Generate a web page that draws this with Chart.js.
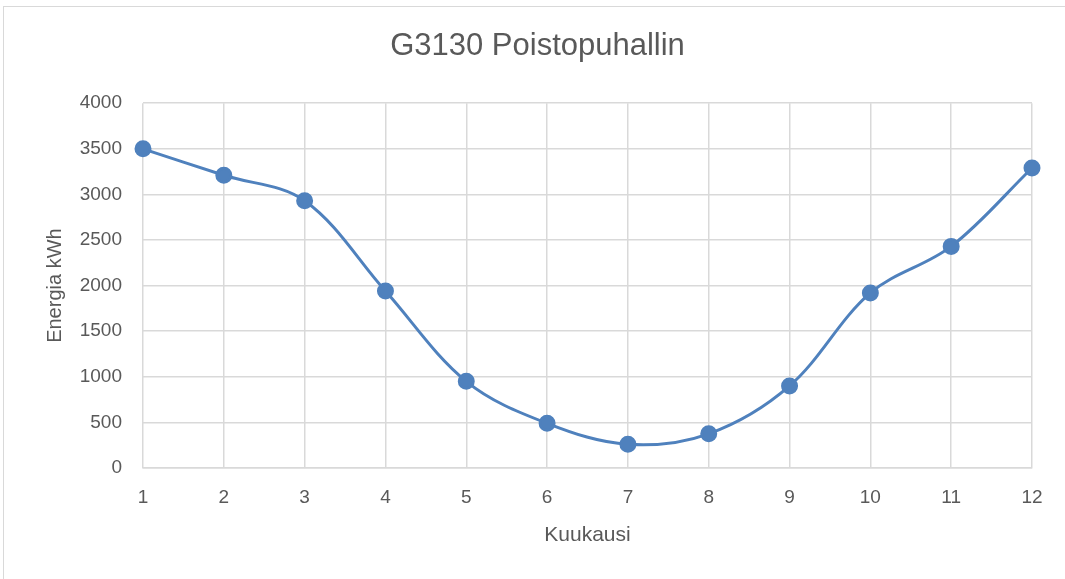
<!DOCTYPE html>
<html>
<head>
<meta charset="utf-8">
<script src="https://cdn.jsdelivr.net/npm/chart.js@4"></script>
<style>
  body { margin: 0; background: #fff; overflow: hidden; }
  #frame { position: absolute; left: 3px; top: 6px; width: 1100px; height: 600px; border: 1px solid #d9d9d9; }
  #energyChart { position: absolute; left: 0; top: 0; }
</style>
</head>
<body>
<div id="frame"></div>
<canvas id="energyChart" width="1065" height="579"></canvas>
<script>
var months = ["1", "2", "3", "4", "5", "6", "7", "8", "9", "10", "11", "12"];
var energy = [3500, 3210, 2930, 1940, 950, 490, 260, 375, 900, 1920, 2430, 3290];
var yTicks = [0, 500, 1000, 1500, 2000, 2500, 3000, 3500, 4000];

document.addEventListener("DOMContentLoaded", function() {
  var fontFamily = "'Liberation Sans', Arial, sans-serif";
  var ctx = document.getElementById("energyChart").getContext("2d");
  new Chart(ctx, {
    type: "line",
    data: {
      labels: months,
      datasets: [{
        label: "Energia kWh",
        data: energy,
        borderColor: "#4f81bd",
        backgroundColor: "#4f81bd",
        borderWidth: 3,
        pointRadius: 7,
        pointHoverRadius: 7,
        tension: 0.35,
        fill: false
      }]
    },
    options: {
      responsive: false,
      animation: false,
      layout: { padding: { left: 43, right: 33, top: 8, bottom: 31 } },
      plugins: {
        legend: { display: false },
        tooltip: { enabled: false },
        title: {
          display: true,
          text: "G3130 Poistopuhallin",
          color: "#595959",
          font: { family: fontFamily, size: 31, weight: "normal" },
          padding: { top: 20, bottom: 38 }
        }
      },
      scales: {
        x: {
          offset: false,
          grid: { color: "#d9d9d9", lineWidth: 1.5, drawTicks: false },
          border: { color: "#d9d9d9", width: 1.5 },
          ticks: { color: "#595959", padding: 18, font: { family: fontFamily, size: 19 } },
          title: {
            display: true,
            text: "Kuukausi",
            color: "#595959",
            font: { family: fontFamily, size: 21 },
            padding: { top: -4, bottom: 0 }
          }
        },
        y: {
          min: 0,
          max: 4000,
          afterBuildTicks: function(axis) {
            axis.ticks = yTicks.map(function(v) { return { value: v }; });
          },
          afterFit: function(axis) {
            axis.width = 100;
          },
          grid: { color: "#d9d9d9", lineWidth: 1.5, drawTicks: false },
          border: { display: false },
          ticks: {
            color: "#595959",
            padding: 21,
            font: { family: fontFamily, size: 19 },
            callback: function(v) { return String(v); }
          },
          title: {
            display: true,
            text: "Energia kWh",
            color: "#595959",
            font: { family: fontFamily, size: 20 },
            padding: { top: 0, bottom: 16 }
          }
        }
      }
    }
  });
});
</script>
</body>
</html>
